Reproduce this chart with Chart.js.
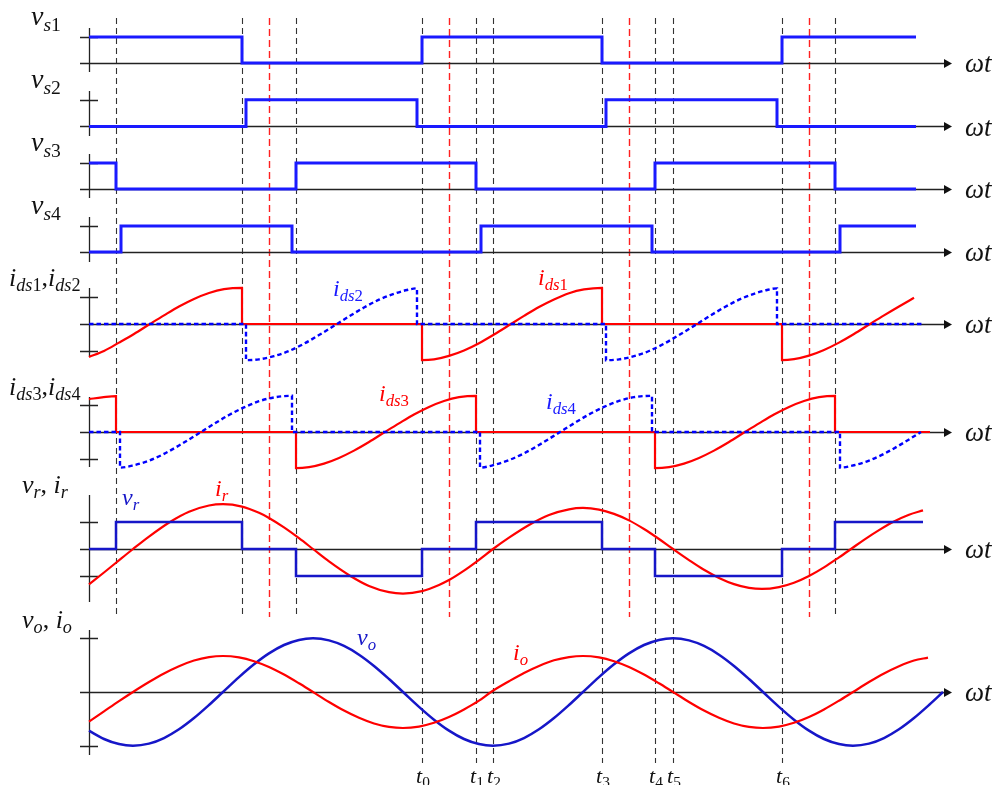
<!DOCTYPE html>
<html>
<head>
<meta charset="utf-8">
<script src="https://cdn.jsdelivr.net/npm/chart.js@4/dist/chart.umd.min.js"></script>
<style>
  html, body { margin: 0; padding: 0; background: #fff; }
  #wrap { width: 994px; height: 785px; position: relative; }
</style>
</head>
<body>
<div id="wrap"><canvas id="c"></canvas></div>
<script>
// Phase axis in electrical degrees (0 = vertical axis), pairs are [ωt, value]
// Gate signals (per unit)
const vs1 = [[0,1],[153,1],[153,0],[333,0],[333,1],[513,1],[513,0],[693,0],[693,1],[827,1]];
const vs2 = [[0,0],[157,0],[157,1],[328,1],[328,0],[517,0],[517,1],[688,1],[688,0],[827,0]];
const vs3 = [[0,1],[27,1],[27,0],[207,0],[207,1],[387,1],[387,0],[566,0],[566,1],[746,1],[746,0],[827,0]];
const vs4 = [[0,0],[32,0],[32,1],[203,1],[203,0],[392,0],[392,1],[563,1],[563,0],[751,0],[751,1],[827,1]];

// Switch currents
const ids1 = [[0,-1.22],[15,-1.0],[30,-0.69],[45,-0.37],[61,0],[75,0.32],[90,0.65],[105,0.93],[120,1.15],[135,1.29],[153,1.34],[153,0],
  [333,0],[333,-1.34],[345,-1.31],[360,-1.18],[375,-0.98],[390,-0.71],[405,-0.39],[422,0],[435,0.30],[450,0.63],[465,0.91],[480,1.14],[495,1.28],[513,1.34],[513,0],
  [693,0],[693,-1.34],[705,-1.30],[720,-1.17],[735,-0.96],[750,-0.69],[765,-0.37],[781,0],[795,0.32],[810,0.65],[825,0.97]];
const ids2 = [[0,0],[157,0],[157,-1.34],[170,-1.31],[185,-1.19],[200,-1.0],[215,-0.73],[230,-0.41],[248,0],[260,0.28],[275,0.61],[290,0.90],[305,1.12],[318,1.26],[328,1.32],[328,0],
  [517,0],[517,-1.34],[530,-1.31],[545,-1.19],[560,-1.0],[575,-0.73],[590,-0.41],[608,0],[620,0.28],[635,0.61],[650,0.90],[665,1.12],[678,1.26],[688,1.32],[688,0],[834,0]];
const ids3 = [[0,1.22],[13,1.28],[27,1.33],[27,0],[207,0],[207,-1.34],[220,-1.30],[235,-1.17],[250,-0.96],[265,-0.69],[280,-0.37],[296,0],[310,0.32],[325,0.65],[340,0.93],[355,1.15],[370,1.29],[387,1.34],[387,0],
  [566,0],[566,-1.34],[580,-1.30],[595,-1.17],[610,-0.96],[625,-0.69],[640,-0.37],[656,0],[670,0.32],[685,0.65],[700,0.93],[715,1.15],[730,1.29],[746,1.34],[746,0],[841,0]];
const ids4 = [[0,0],[31,0],[31,-1.32],[45,-1.23],[60,-1.06],[75,-0.81],[90,-0.50],[112,0],[125,0.30],[140,0.63],[155,0.91],[170,1.14],[185,1.28],[203,1.34],[203,0],
  [391,0],[391,-1.32],[405,-1.22],[420,-1.04],[435,-0.79],[450,-0.48],[471,0],[485,0.32],[500,0.65],[515,0.93],[530,1.15],[545,1.29],[563,1.34],[563,0],
  [751,0],[751,-1.32],[765,-1.23],[780,-1.06],[795,-0.81],[810,-0.50],[832,0]];

// Resonant tank voltage and current
const vr = [[0,0],[27,0],[27,1],[153,1],[153,0],[207,0],[207,-1],[333,-1],[333,0],[387,0],[387,1],[513,1],[513,0],[566,0],[566,-1],[693,-1],[693,0],[746,0],[746,1],[834,1]];
const ir = [[0,-1.31],[15,-0.87],[27,-0.51],[44,0],[60,0.46],[81,1.0],[100,1.38],[120,1.61],[134,1.66],[153,1.57],[170,1.34],[180,1.15],[195,0.80],[210,0.40],[224,0],
  [240,-0.46],[261,-0.99],[280,-1.37],[300,-1.60],[314,-1.65],[333,-1.56],[350,-1.33],[360,-1.15],[375,-0.80],[390,-0.40],[404,0],
  [420,0.42],[440,0.89],[460,1.26],[480,1.47],[494,1.52],[510,1.46],[525,1.30],[540,1.06],[555,0.74],[570,0.37],[584,0],
  [600,-0.41],[615,-0.77],[630,-1.07],[645,-1.30],[660,-1.44],[673,-1.48],[690,-1.41],[705,-1.25],[720,-1.0],[735,-0.68],[750,-0.31],[762,0],
  [775,0.34],[790,0.70],[805,1.02],[820,1.27],[834,1.43]];

// Output voltage and current
const vo = [[0,-0.72],[15,-0.875],[30,-0.97],[44,-1.0],[60,-0.961],[75,-0.857],[90,-0.695],[105,-0.485],[120,-0.242],[134,0],[150,0.276],[165,0.515],[180,0.719],[195,0.875],[210,0.97],[224,1.0],
  [240,0.961],[255,0.857],[270,0.695],[285,0.485],[300,0.242],[314,0],[330,-0.276],[345,-0.515],[360,-0.719],[375,-0.875],[390,-0.97],[404,-1.0],
  [420,-0.961],[435,-0.857],[450,-0.695],[465,-0.485],[480,-0.242],[494,0],[510,0.276],[525,0.515],[540,0.719],[555,0.875],[570,0.97],[584,1.0],
  [600,0.961],[615,0.857],[630,0.695],[645,0.485],[660,0.242],[674,0],[690,-0.276],[705,-0.515],[720,-0.719],[735,-0.875],[750,-0.97],[764,-1.0],
  [780,-0.961],[795,-0.857],[810,-0.695],[825,-0.485],[840,-0.242],[854,0]];
const io = [[0,-0.55],[15,-0.36],[30,-0.17],[44,0],[60,0.185],[75,0.345],[90,0.48],[105,0.586],[120,0.65],[134,0.67],[150,0.644],[165,0.574],[180,0.466],[195,0.325],[210,0.162],[224,0],
  [240,-0.185],[255,-0.345],[270,-0.48],[285,-0.586],[300,-0.65],[314,-0.67],[330,-0.644],[345,-0.574],[360,-0.466],[375,-0.325],[390,-0.162],[402,0],
  [420,0.2],[435,0.355],[450,0.485],[465,0.59],[480,0.65],[494,0.67],[510,0.644],[525,0.574],[540,0.466],[555,0.325],[570,0.162],[584,0],
  [600,-0.185],[615,-0.345],[630,-0.48],[645,-0.586],[660,-0.65],[674,-0.67],[690,-0.644],[705,-0.574],[720,-0.466],[735,-0.325],[750,-0.162],[764,0],
  [780,0.185],[795,0.345],[810,0.48],[825,0.586],[839,0.64]];

// Instants marked under the plots, and the other switching edges
const instantNames = ['0','1','2','3','4','5','6'];
const instantAt = [333, 387, 404, 513, 566, 584, 693];
const edgeAt = [27, 153, 207, 746];
const halfCycleAt = [180, 360, 540, 720];

// ---- layout of the stacked strips (pixels) ----
const W = 994, H = 785, AXIS_X = 89;
const strips = [
  { id: 'ys1', base: 63,    unit: 26,   span: [28, 72],   ticks: [1] },
  { id: 'ys2', base: 126.5, unit: 26.8, span: [91, 136],  ticks: [1] },
  { id: 'ys3', base: 189,   unit: 26,   span: [154, 198], ticks: [1] },
  { id: 'ys4', base: 252,   unit: 26,   span: [217, 262], ticks: [1] },
  { id: 'yd12', base: 324,  unit: 27,   span: [288, 357], ticks: [1, -1] },
  { id: 'yd34', base: 432,  unit: 27,   span: [397, 467], ticks: [1, -1] },
  { id: 'yr', base: 549,    unit: 27,   span: [495, 602], ticks: [1, -1] },
  { id: 'yo', base: 692,    unit: 53.7, span: [630, 755], ticks: [1, -1] }
];

const BLUE = '#1a1aff', DBLUE = '#1616c8', RED = '#ff0000';
const SERIF = '"Liberation Serif", "Times New Roman", serif';
const SUB = 0.7;

const pts = a => a.map(p => ({ x: p[0], y: p[1] }));
function ds(data, axis, color, width, dash) {
  return {
    data: pts(data), yAxisID: axis, borderColor: color, borderWidth: width,
    borderDash: dash || [], pointRadius: 0, fill: false,
    cubicInterpolationMode: 'monotone',
    borderJoinStyle: 'miter', borderCapStyle: 'butt', spanGaps: true
  };
}

const datasets = [
  ds(vs1, 'ys1', BLUE, 3),
  ds(vs2, 'ys2', BLUE, 3),
  ds(vs3, 'ys3', BLUE, 3),
  ds(vs4, 'ys4', BLUE, 3),
  ds(ids2, 'yd12', '#0000ff', 2.4, [4.5, 3]),
  ds(ids1, 'yd12', RED, 2.2),
  ds(ids4, 'yd34', '#0000ff', 2.4, [4.5, 3]),
  ds(ids3, 'yd34', RED, 2.2),
  ds(vr, 'yr', DBLUE, 2.5),
  ds(ir, 'yr', RED, 2.2),
  ds(io, 'yo', RED, 2.2),
  ds(vo, 'yo', DBLUE, 2.5)
];

const scales = { x: { type: 'linear', display: false, min: -AXIS_X, max: W - AXIS_X } };
strips.forEach(s => {
  scales[s.id] = { type: 'linear', display: false, min: (s.base - H) / s.unit, max: s.base / s.unit };
});

// rich text: parts are [text, italic, subscript]
function setFont(ctx, it, sub, size) {
  ctx.font = (it ? 'italic ' : '') + (sub ? size * SUB : size) + 'px ' + SERIF;
}
function rich(ctx, x, y, parts, size, color) {
  ctx.save();
  ctx.fillStyle = color;
  ctx.textBaseline = 'alphabetic';
  ctx.textAlign = 'left';
  let cx = x;
  parts.forEach(([t, it, sub]) => {
    setFont(ctx, it, sub, size);
    ctx.fillText(t, cx, sub ? y + size * 0.2 : y);
    cx += ctx.measureText(t).width;
  });
  ctx.restore();
  return cx - x;
}
function richWidth(ctx, parts, size) {
  let w = 0;
  ctx.save();
  parts.forEach(([t, it, sub]) => { setFont(ctx, it, sub, size); w += ctx.measureText(t).width; });
  ctx.restore();
  return w;
}

const sLabel = n => [['v', 1, 0], ['s', 1, 1], [n, 0, 1]];
const dLabel = (a, b) => [['i', 1, 0], ['ds', 1, 1], [a, 0, 1], [',', 0, 0], ['i', 1, 0], ['ds', 1, 1], [b, 0, 1]];
const stripLabels = [
  { parts: sLabel('1'), x: 31, y: 25, size: 28 },
  { parts: sLabel('2'), x: 31, y: 88, size: 28 },
  { parts: sLabel('3'), x: 31, y: 151, size: 28 },
  { parts: sLabel('4'), x: 31, y: 214, size: 28 },
  { parts: dLabel('1', '2'), x: 9, y: 286, size: 26 },
  { parts: dLabel('3', '4'), x: 9, y: 395, size: 26 },
  { parts: [['v', 1, 0], ['r', 1, 1], [', ', 0, 0], ['i', 1, 0], ['r', 1, 1]], x: 22, y: 493, size: 26 },
  { parts: [['v', 1, 0], ['o', 1, 1], [', ', 0, 0], ['i', 1, 0], ['o', 1, 1]], x: 22, y: 628, size: 26 }
];
const curveLabels = [
  { parts: [['i', 1, 0], ['ds', 1, 1], ['2', 0, 1]], x: 333, y: 296, color: '#1a1aff' },
  { parts: [['i', 1, 0], ['ds', 1, 1], ['1', 0, 1]], x: 538, y: 285, color: RED },
  { parts: [['i', 1, 0], ['ds', 1, 1], ['3', 0, 1]], x: 379, y: 401, color: RED },
  { parts: [['i', 1, 0], ['ds', 1, 1], ['4', 0, 1]], x: 546, y: 409, color: '#1a1aff' },
  { parts: [['v', 1, 0], ['r', 1, 1]], x: 122, y: 505, color: DBLUE },
  { parts: [['i', 1, 0], ['r', 1, 1]], x: 215, y: 496, color: RED },
  { parts: [['v', 1, 0], ['o', 1, 1]], x: 357, y: 645, color: DBLUE },
  { parts: [['i', 1, 0], ['o', 1, 1]], x: 513, y: 660, color: RED }
];

const decor = {
  id: 'decor',
  beforeDatasetsDraw(chart) {
    const ctx = chart.ctx, xs = chart.scales.x;
    ctx.save();
    // vertical guide lines
    const vline = (v, y0, y1) => {
      const px = Math.round(xs.getPixelForValue(v)) + 0.5;
      ctx.beginPath(); ctx.moveTo(px, y0); ctx.lineTo(px, y1); ctx.stroke();
    };
    ctx.lineWidth = 1.1;
    ctx.setLineDash([6, 4]);
    ctx.strokeStyle = '#333';
    edgeAt.forEach(v => vline(v, 18, 617));
    instantAt.forEach(v => vline(v, 18, 763));
    ctx.strokeStyle = '#ff2020';
    ctx.lineWidth = 1.4;
    ctx.setLineDash([7, 4]);
    halfCycleAt.forEach(v => vline(v, 18, 617));
    ctx.setLineDash([]);

    // strip axes, ticks and arrows
    ctx.strokeStyle = '#222';
    ctx.fillStyle = '#111';
    ctx.lineWidth = 1.3;
    strips.forEach(s => {
      const sc = chart.scales[s.id];
      const y0 = Math.round(sc.getPixelForValue(0)) + 0.5;
      ctx.beginPath();
      ctx.moveTo(AXIS_X + 0.5, s.span[0]); ctx.lineTo(AXIS_X + 0.5, s.span[1]);
      ctx.moveTo(80, y0); ctx.lineTo(945, y0);
      s.ticks.forEach(t => {
        const ty = Math.round(sc.getPixelForValue(t)) + 0.5;
        ctx.moveTo(80, ty); ctx.lineTo(98, ty);
      });
      ctx.stroke();
      ctx.beginPath();
      ctx.moveTo(952, y0); ctx.lineTo(944, y0 - 4.5); ctx.lineTo(944, y0 + 4.5); ctx.closePath();
      ctx.fill();
    });
    ctx.restore();
  },
  afterDatasetsDraw(chart) {
    const ctx = chart.ctx, xs = chart.scales.x;
    stripLabels.forEach(l => rich(ctx, l.x, l.y, l.parts, l.size, '#111'));
    curveLabels.forEach(l => rich(ctx, l.x, l.y, l.parts, 24, l.color));
    strips.forEach(s => {
      const y0 = chart.scales[s.id].getPixelForValue(0);
      rich(ctx, 965, y0 + 9, [['ωt', 1, 0]], 27, '#111');
    });
    instantAt.forEach((v, i) => {
      const parts = [['t', 1, 0], [instantNames[i], 0, 1]];
      const w = richWidth(ctx, parts, 22);
      rich(ctx, xs.getPixelForValue(v) - w / 2 + 1, 783, parts, 22, '#111');
    });
  }
};

new Chart(document.getElementById('c'), {
  type: 'line',
  data: { datasets },
  options: {
    responsive: true,
    maintainAspectRatio: false,
    animation: false,
    events: [],
    layout: { padding: 0, autoPadding: false },
    plugins: { legend: { display: false }, title: { display: false }, tooltip: { enabled: false } },
    scales
  },
  plugins: [decor]
});
</script>
</body>
</html>
